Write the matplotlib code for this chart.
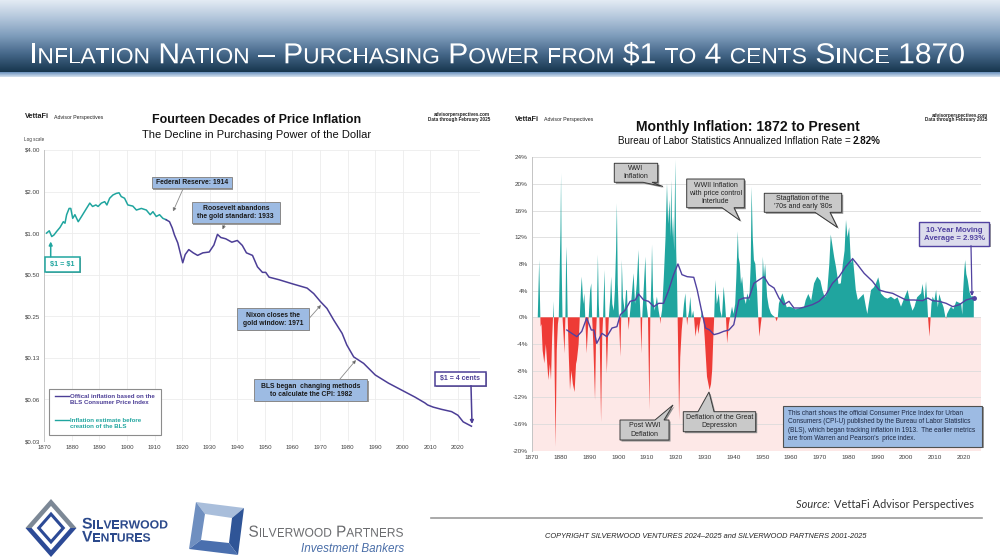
import numpy as np
import matplotlib
matplotlib.use("Agg")
import matplotlib.pyplot as plt
from matplotlib.colors import LinearSegmentedColormap
from matplotlib.font_manager import FontProperties, findfont, get_font
from matplotlib.patches import PathPatch, Polygon, Rectangle
from matplotlib.textpath import TextPath
from matplotlib.ticker import NullLocator
from matplotlib.transforms import Affine2D

plt.rcParams["font.family"] = ["Liberation Sans", "DejaVu Sans"]

# --- left chart: value of $1 (log scale) ---
est_years = [1870.8, 1871.8, 1872.7, 1873.5, 1874.5, 1875.7, 1876.9, 1877.5, 1878.1, 1879.0,
             1879.6, 1880.3, 1881.1, 1882.3, 1883.5, 1885.3, 1886.5, 1887.5, 1888.7, 1889.5,
             1890.7, 1891.9, 1892.7, 1893.7, 1894.9, 1896.1, 1897.1, 1897.9, 1899.1, 1900.3,
             1902.1, 1903.4, 1905.2, 1907.0, 1908.4, 1909.4, 1910.6, 1911.8, 1913.0, 1914.2]
est_values = [1.00, 1.04, 0.945, 0.97, 1.03, 1.10, 1.21, 1.18, 1.36, 1.51,
              1.51, 1.28, 1.36, 1.21, 1.32, 1.51, 1.65, 1.56, 1.60, 1.56,
              1.65, 1.69, 1.60, 1.79, 1.89, 1.94, 1.96, 1.84, 1.79, 1.60,
              1.57, 1.47, 1.51, 1.47, 1.36, 1.43, 1.32, 1.36, 1.28, 1.25]

bls_years = [1914.2, 1915.4, 1916.4, 1917.2, 1918.4, 1919.3, 1920.2, 1921.1, 1922.4, 1924.0,
             1925.6, 1927.5, 1929.8, 1931.5, 1932.8, 1934.0, 1935.8, 1938.0, 1940.0, 1941.8,
             1943.3, 1945.5, 1947.3, 1949.1, 1950.3, 1951.5, 1955.1, 1959.9, 1965.3, 1967.7,
             1970.1, 1972.5, 1975.0, 1978.0, 1979.7, 1982.2, 1985.8, 1990.0, 1994.8, 1999.6,
             2004.4, 2008.0, 2009.0, 2011.0, 2014.0, 2017.7, 2020.0, 2021.9, 2024.9]
bls_values = [1.25, 1.21, 1.09, 0.97, 0.85, 0.72, 0.61, 0.70, 0.76, 0.72,
              0.69, 0.72, 0.73, 0.82, 0.98, 0.93, 0.91, 0.86, 0.885, 0.815,
              0.72, 0.69, 0.57, 0.52, 0.52, 0.48, 0.46, 0.43, 0.40, 0.365,
              0.32, 0.285, 0.234, 0.188, 0.155, 0.127, 0.114, 0.094, 0.082, 0.073,
              0.065, 0.059, 0.057, 0.055, 0.053, 0.051, 0.048, 0.043, 0.040]

log_ticks = [4, 2, 1, 0.5, 0.25, 0.125, 0.0625, 0.03125]
log_labels = ["$4.00", "$2.00", "$1.00", "$0.50", "$0.25", "$0.13", "$0.06", "$0.03"]

# --- right chart: monthly annualized inflation (%) ---
infl_years = [
    1872.0, 1872.5, 1872.9, 1873.0, 1873.3, 1873.7, 1874.3, 1874.8, 1875.3, 1875.7,
    1876.2, 1876.6, 1877.0, 1877.3, 1877.4, 1877.6, 1877.8, 1878.2, 1878.6, 1879.0,
    1879.3, 1879.9, 1880.1, 1880.3, 1880.6, 1881.0, 1881.3, 1881.6, 1881.9, 1882.1,
    1882.4, 1882.8, 1883.2, 1883.7, 1884.2, 1884.8, 1885.3, 1885.6, 1886.2, 1886.6,
    1887.0, 1887.3, 1887.8, 1888.2, 1888.5, 1889.0, 1889.4, 1889.7, 1890.2, 1890.6,
    1890.9, 1891.3, 1891.9, 1892.3, 1892.5, 1892.9, 1893.2, 1893.4, 1894.0, 1894.4,
    1894.7, 1895.2, 1895.5, 1896.0, 1896.4, 1896.7, 1897.2, 1897.5, 1897.9, 1898.4,
    1898.8, 1899.2, 1899.5, 1899.8, 1900.2, 1900.7, 1901.0, 1901.2, 1901.6, 1902.2,
    1902.7, 1903.0, 1903.3, 1903.6, 1903.9, 1904.6, 1905.3, 1905.8, 1906.4, 1907.0,
    1907.4, 1907.7, 1908.0, 1908.3, 1908.9, 1909.4, 1909.8, 1910.3, 1910.8, 1911.1,
    1911.5, 1911.7, 1912.1, 1912.6, 1913.4, 1914.0, 1914.4, 1914.6, 1914.8, 1915.2,
    1915.8, 1916.4, 1916.9, 1917.3, 1917.8, 1918.1, 1918.4, 1918.7, 1919.0, 1919.4,
    1919.8, 1920.1, 1920.4, 1920.6, 1920.9, 1921.1, 1921.5, 1922.0, 1922.4, 1922.8,
    1923.3, 1923.7, 1923.9, 1924.2, 1924.6, 1925.0, 1925.5, 1926.0, 1926.3, 1926.8,
    1927.4, 1927.8, 1928.3, 1928.7, 1929.1, 1929.5, 1930.0, 1930.8, 1931.7, 1932.2,
    1932.6, 1933.0, 1933.3, 1933.7, 1934.2, 1934.9, 1935.4, 1936.0, 1936.6, 1937.1,
    1937.4, 1937.8, 1938.4, 1938.8, 1939.5, 1940.0, 1940.6, 1941.0, 1941.5, 1941.8,
    1942.2, 1942.6, 1943.0, 1943.6, 1944.3, 1944.8, 1945.5, 1946.0, 1946.3, 1946.7,
    1947.1, 1947.6, 1948.0, 1948.2, 1948.6, 1949.0, 1949.5, 1949.8, 1950.2, 1950.6,
    1951.0, 1951.7, 1952.3, 1953.0, 1953.6, 1954.5, 1955.0, 1955.4, 1955.8, 1956.5,
    1957.0, 1957.8, 1958.5, 1959.3, 1960.3, 1961.6, 1962.5, 1963.4, 1964.5, 1965.1,
    1966.0, 1967.0, 1968.0, 1969.1, 1970.2, 1970.9, 1971.7, 1972.5, 1973.3, 1973.8,
    1974.3, 1975.0, 1975.6, 1976.5, 1977.3, 1978.0, 1978.6, 1979.1, 1979.6, 1980.2,
    1980.8, 1981.5, 1982.5, 1983.2, 1984.3, 1985.2, 1986.0, 1986.5, 1987.0, 1987.8,
    1988.8, 1989.5, 1990.3, 1990.8, 1991.2, 1992.5, 1993.5, 1994.7, 1996.0, 1997.0,
    1998.2, 1999.0, 2000.5, 2001.5, 2002.2, 2002.9, 2003.8, 2005.2, 2005.7, 2006.4,
    2006.9, 2007.3, 2007.6, 2008.1, 2008.5, 2008.8, 2009.2, 2009.8, 2010.4, 2011.0,
    2011.5, 2012.1, 2013.0, 2013.6, 2013.9, 2014.2, 2015.0, 2015.6, 2016.4, 2017.4,
    2018.3, 2019.1, 2019.5, 2019.8, 2020.2, 2020.5, 2020.9, 2021.4, 2022.0, 2022.6,
    2023.0, 2023.5]
infl_rates = [
    0, 8.6, 0, -1.4, -1, -5, -6.9, -4, -7, -9.4,
    -7, -9.4, -3, 0, 2.4, 0, -6, -19.4, -5, -1,
    0, 13, 21.6, 8, 0, -3, -5.4, 0, 10.6, 8,
    0, -6, -10.9, -8, -10, -11.2, -7, -6.4, -4, 0,
    4, 6.1, 2, 3.6, 0, -5.4, -2, 0, 4, 5.1,
    0, -4, -12.4, -2, 0, 9.4, 2, 0, -15.7, -3,
    0, 7.1, 0, -8.4, -3, 0, 3, 6.1, 2, 1,
    4, 10, 17.1, 5, 0, -5.9, 0, 8.6, 3, 1,
    4, 4.1, 0, -1.9, 0, 3, 6.6, 2, 5, 10.1,
    3, 0, -5.4, 0, 5, 9.1, 2, 0, -13.9, 0,
    6, 10.9, 3, 1, 3.1, 1, 0, -1, 0, 1.1,
    6, 12, 20.1, 14, 17.6, 12, 20.6, 12, 15.1, 10,
    23.6, 10, 5.1, 0, -8, -15.4, -6, -2, 0, 2,
    3.6, 0, -1.2, 0, 1, 3.1, 0, 1, 0, -2.9,
    -1, -2.5, -1, 0, 1, 0, -3, -8.9, -10.9, -10,
    -7.9, -3, 0, 5.6, 2, 3.6, 1, 0, 4.6, 2,
    0, -3.9, -1, 0, 1.6, 0.5, 2, 6, 12.9, 9,
    8, 5, 6.1, 3.1, 2, 3.6, 2.5, 8, 19.6, 12,
    8.6, 8, 5, 4.1, 0, -2.9, -1, 0, 9.1, 6,
    8, 3.1, 1.5, 0.6, 0.3, 0, -0.6, 0, 2.1, 3,
    3.6, 2.5, 1.5, 1.6, 1.5, 1.2, 1.3, 1.5, 1.5, 2.6,
    3.5, 2.5, 5.1, 6.1, 5.5, 4.1, 3, 3.5, 8, 12.4,
    11, 9, 7.6, 5, 5.1, 8, 10, 14.6, 12, 13.5,
    8.1, 9, 4.1, 2.6, 3.1, 3.5, 1.6, 0.5, 2, 4.1,
    4.5, 5.1, 6, 5, 3.6, 3, 2.8, 3.1, 2.7, 3,
    1.6, 2.5, 4.1, 2, 1, 1.6, 3, 3.6, 5, 2.5,
    5.4, 2.5, 0, -2.9, 0, 2, 3.1, 2.5, 4.1, 1.5,
    3.5, 2.6, 1.5, 0.1, -0.2, 0.5, 1.2, 1.6, 1.2, 2.4,
    2.2, 2.1, 0.4, 4, 7, 8.6, 6.5, 5.6, 3.8, 3.1,
    3.2, 2.9]

ma_years = [1882.1, 1883.8, 1885.6, 1887.3, 1889.0, 1890.6, 1891.5, 1892.5, 1894.3, 1896.0,
            1897.8, 1899.5, 1900.7, 1902.4, 1904.1, 1905.9, 1907.0, 1908.8, 1910.5, 1912.3,
            1914.0, 1915.7, 1917.5, 1919.2, 1920.7, 1922.1, 1923.9, 1926.2, 1927.4, 1929.1,
            1930.3, 1931.7, 1933.2, 1934.9, 1936.6, 1938.4, 1940.1, 1941.9, 1943.6, 1945.4,
            1947.1, 1948.8, 1950.6, 1952.3, 1954.1, 1955.8, 1957.5, 1959.3, 1961.0, 1963.4,
            1965.1, 1967.4, 1969.7, 1972.1, 1974.4, 1976.7, 1979.0, 1981.4, 1983.1, 1985.4,
            1988.3, 1990.6, 1993.0, 1995.3, 1997.6, 1999.9, 2002.8, 2005.7, 2007.5, 2009.2,
            2011.5, 2013.9, 2016.2, 2018.5, 2020.8, 2023.5]
ma_values = [-1.9, -2.4, -2.9, -2.1, -0.1, -1.9, -1.9, -3.9, -2.4, -2.9,
             -1.6, -1.4, 0.4, 1.1, 2.4, 2.6, 3.5, 2.6, 2.4, 1.6,
             2.1, 2.1, 4.1, 6.4, 8.0, 6.4, 6.1, 6.0, 4.1, 0.6,
             -1.6, -1.9, -2.6, -2.4, -2.1, -1.9, -1.1, 2.6, 2.9, 2.9,
             5.1, 5.6, 6.1, 4.9, 4.4, 2.9, 1.9, 2.4, 1.4, 1.4,
             1.6, 1.9, 2.4, 3.4, 5.1, 6.1, 7.6, 8.8, 7.9, 6.6,
             5.4, 4.1, 3.8, 3.6, 3.1, 2.6, 2.6, 2.5, 2.9, 2.5,
             2.4, 2.1, 1.6, 1.9, 2.6, 2.93]

pct_ticks = list(range(-20, 25, 4))
decade_ticks = list(range(1870, 2021, 10))

TEAL = "#20a59f"
PURPLE = "#4c3e96"
MA_PURPLE = "#5142a0"
RED = "#ee3b36"
BOX_BLUE = "#9dbbe3"
GRAY_BOX = "#c9c9c9"
BOX_FS = 4.9
CALL_FS = 5.0


def fig_rect(left, top, right, bottom):
    return [left / 1000, 1 - bottom / 560, (right - left) / 1000, (bottom - top) / 560]


def smallcaps(ax, text, x, base, cap_big, cap_small, width, color, family="Liberation Sans", weight="normal"):
    # draws small caps as glyph paths, squeezed to the given width
    prop = FontProperties(family=family, weight=weight)
    font = get_font(findfont(prop))
    big, small = cap_big / 0.716, cap_small / 0.716
    runs = []
    for ch in text:
        c, size = (ch.upper(), small) if ch.islower() else (ch, big)
        font.set_size(size, 72)
        runs.append((c, size, font.load_char(ord(c)).linearHoriAdvance / 65536))
    sx = width / sum(r[2] for r in runs)
    for c, size, adv in runs:
        if c != " ":
            tp = TextPath((0, 0), c, size=size, prop=prop)
            path = Affine2D().scale(sx, -1).translate(x, base).transform_path(tp)
            ax.add_patch(PathPatch(path, fc=color, ec="none", lw=0))
        x += adv * sx


def box(ax, x0, y0, x1, y1, fc, ec, lw=0.7, shadow=True):
    if shadow:
        ax.add_patch(Rectangle((x0 + 1.3, y0 + 1.3), x1 - x0, y1 - y0, fc="#9a9a9a", ec="none"))
    ax.add_patch(Rectangle((x0, y0), x1 - x0, y1 - y0, fc=fc, ec=ec, lw=lw))


def callout(ax, x0, y0, x1, y1, edge, a, b, tip):
    if edge == "bottom":
        pts = [(x0, y0), (x1, y0), (x1, y1), (b, y1), tip, (a, y1), (x0, y1)]
    else:
        pts = [(x0, y0), (a, y0), tip, (b, y0), (x1, y0), (x1, y1), (x0, y1)]
    shadow = [(px + 1.5, py + 1.5) for px, py in pts]
    ax.add_patch(Polygon(shadow, closed=True, fc="#8f8f8f", ec="none"))
    ax.add_patch(Polygon(pts, closed=True, fc=GRAY_BOX, ec="#3a3a3a", lw=0.7))


def arrow(ax, start, tip, color="#8a8a8a", head="#222222", lw=0.6, ms=5):
    ax.annotate("", xy=tip, xytext=start,
                arrowprops=dict(arrowstyle="-|>", ec=color, fc=head, lw=lw,
                                mutation_scale=ms, shrinkA=0, shrinkB=0))


fig = plt.figure(figsize=(10, 5.6), dpi=100)

bg = fig.add_axes([0, 0, 1, 1], zorder=0)
bg.set_xlim(0, 1000)
bg.set_ylim(560, 0)
bg.axis("off")

# title bar
bar_cmap = LinearSegmentedColormap.from_list(
    "bar", ["#e6edf5", "#b4c7dc", "#7f9dbc", "#46688a", "#17364e"])
bg.imshow(np.linspace(0, 1, 200)[:, None], cmap=bar_cmap, extent=(0, 1000, 72.5, 0), aspect="auto")
stripe_cmap = LinearSegmentedColormap.from_list("stripe", ["#6b92bd", "#d4e1ef"])
bg.imshow(np.linspace(0, 1, 20)[:, None], cmap=stripe_cmap, extent=(0, 1000, 77, 72.5), aspect="auto")
smallcaps(bg, "Inflation Nation \u2013 Purchasing Power from $1 to 4 cents Since 1870",
          29, 63.3, 20.7, 15.7, 936, "white")

# ------------------------------------------------------------- left chart
axL = fig.add_axes(fig_rect(44.3, 150, 480, 441), zorder=1)
axL.set_facecolor("none")
axL.plot(est_years, est_values, color=TEAL, lw=1.1, zorder=3)
axL.plot(bls_years, bls_values, color=PURPLE, lw=1.1, zorder=3)
axL.set_yscale("log", base=2)
axL.set_ylim(0.03125, 4)
axL.set_yticks(log_ticks)
axL.set_yticklabels(log_labels)
axL.yaxis.set_minor_locator(NullLocator())
axL.set_xlim(1870, 2028)
axL.set_xticks(decade_ticks)
axL.grid(True, color="#ececec", lw=0.6)
axL.set_axisbelow(True)
for s in ["top", "right", "bottom"]:
    axL.spines[s].set_visible(False)
axL.spines["left"].set_color("#c4c4c4")
axL.spines["left"].set_linewidth(0.7)
axL.tick_params(length=0, labelsize=4.4, colors="#404040", pad=3)

# ------------------------------------------------------------- right chart
axR = fig.add_axes(fig_rect(532, 157.3, 981, 450.7), zorder=1)
axR.set_facecolor("none")
x = np.array(infl_years)
y = np.array(infl_rates)
axR.axhspan(-20, 0, color="#fde8e7", lw=0, zorder=0)
axR.fill_between(x, y, 0, where=y >= 0, interpolate=True, color=TEAL, lw=0, zorder=2)
axR.fill_between(x, y, 0, where=y <= 0, interpolate=True, color=RED, lw=0, zorder=2)
axR.plot(ma_years, ma_values, color=MA_PURPLE, lw=1.0, zorder=3)
axR.plot(ma_years[-1:], ma_values[-1:], "o", color=MA_PURPLE, ms=2.5, zorder=4)
axR.set_ylim(-20, 24)
axR.set_yticks(pct_ticks)
axR.set_yticklabels([f"{t}%" for t in pct_ticks])
axR.set_xlim(1870, 2026)
axR.set_xticks(decade_ticks)
axR.grid(True, axis="y", color="#dcdcdc", lw=0.6)
axR.set_axisbelow(True)
for s in ["top", "right", "bottom"]:
    axR.spines[s].set_visible(False)
axR.spines["left"].set_color("#c4c4c4")
axR.spines["left"].set_linewidth(0.7)
axR.tick_params(length=0, labelsize=4.6, colors="#404040", pad=3)

# ------------------------------------------------------------- overlay
ov = fig.add_axes([0, 0, 1, 1], zorder=5)
ov.set_xlim(0, 1000)
ov.set_ylim(560, 0)
ov.axis("off")
ov.patch.set_alpha(0)

# left chart headers
ov.text(25, 117, "VettaFi", fontsize=5.2, weight="bold", color="#222", va="center")
ov.text(54, 117, "Advisor Perspectives", fontsize=3.8, color="#222", va="center")
ov.text(490.5, 114.5, "advisorperspectives.com", fontsize=3.3, weight="bold", color="#222", ha="right", va="center")
ov.text(490.5, 119.5, "Data through February 2025", fontsize=3.3, weight="bold", color="#222", ha="right", va="center")
ov.text(257, 120, "Fourteen Decades of Price Inflation", fontsize=8.9, weight="bold", color="#111", ha="center", va="center")
ov.text(257, 134.5, "The Decline in Purchasing Power of the Dollar", fontsize=8.0, color="#111", ha="center", va="center")
ov.text(23.5, 139.5, "Log scale", fontsize=3.3, color="#333", va="center")

# left chart annotations
box(ov, 151.7, 176.7, 231.7, 188.3, BOX_BLUE, "#8a8a8a")
ov.text(191.7, 182.6, "Federal Reserve: 1914", fontsize=BOX_FS, weight="bold", color="#1a1a1a", ha="center", va="center")
arrow(ov, (183, 189), (173, 211.5))

box(ov, 191.7, 201.7, 280, 223.3, BOX_BLUE, "#8a8a8a")
ov.text(235.8, 212.6, "Roosevelt abandons\nthe gold standard: 1933", fontsize=BOX_FS, weight="bold",
        color="#1a1a1a", ha="center", va="center", linespacing=1.25)
arrow(ov, (225, 223.5), (222.5, 229.5))

box(ov, 45, 256.7, 80, 271.7, "white", TEAL, lw=1.1, shadow=True)
ov.text(62.5, 264.3, "\\$1 = \\$1", fontsize=5.2, weight="bold", color=TEAL, ha="center", va="center")
arrow(ov, (50.7, 256.7), (50.7, 241.5), color=TEAL, head=TEAL, lw=1.1, ms=5)

box(ov, 236.7, 308.3, 309, 330, BOX_BLUE, "#8a8a8a")
ov.text(272.8, 319.3, "Nixon closes the\ngold window: 1971", fontsize=BOX_FS, weight="bold",
        color="#1a1a1a", ha="center", va="center", linespacing=1.25)
arrow(ov, (309.5, 318), (321, 305))

box(ov, 254.3, 379.3, 367.3, 401, BOX_BLUE, "#8a8a8a")
ov.text(310.8, 390.3, "BLS began  changing methods\nto calculate the CPI: 1982", fontsize=BOX_FS, weight="bold",
        color="#1a1a1a", ha="center", va="center", linespacing=1.25)
arrow(ov, (340, 379), (356, 360))

box(ov, 435, 371.7, 486, 385.7, "white", PURPLE, lw=1.1)
ov.text(460.5, 378.8, "$1 = 4 cents", fontsize=5.0, weight="bold", color=PURPLE, ha="center", va="center")
arrow(ov, (471, 385.7), (472, 424), color=PURPLE, head=PURPLE, lw=1.1, ms=5)

# left legend
ov.add_patch(Rectangle((49.3, 389), 111.4, 46, fc="white", ec="#8c8c8c", lw=0.8))
ov.plot([55, 68.5], [396, 396], color=PURPLE, lw=1.0)
ov.text(70, 399.7, "Offical inflation based on the\nBLS Consumer Price Index", fontsize=4.4, weight="bold",
        color=PURPLE, va="center", linespacing=1.2)
ov.plot([55, 68.5], [420, 420], color=TEAL, lw=1.0)
ov.text(70, 423.4, "Inflation estimate before\ncreation of the BLS", fontsize=4.4, weight="bold",
        color=TEAL, va="center", linespacing=1.2)

# right chart headers
ov.text(515, 119.5, "VettaFi", fontsize=5.2, weight="bold", color="#222", va="center")
ov.text(544.5, 119.5, "Advisor Perspectives", fontsize=3.8, color="#222", va="center")
ov.text(987.5, 115, "advisorperspectives.com", fontsize=3.3, weight="bold", color="#222", ha="right", va="center")
ov.text(987.5, 120, "Data through February 2025", fontsize=3.3, weight="bold", color="#222", ha="right", va="center")
ov.text(748, 126.5, "Monthly Inflation: 1872 to Present", fontsize=10.1, weight="bold", color="#111", ha="center", va="center")
ov.text(853, 140.5, "Bureau of Labor Statistics Annualized Inflation Rate = ", fontsize=7.1, color="#111", ha="right", va="center")
ov.text(853, 140.5, "2.82%", fontsize=7.1, weight="bold", color="#111", ha="left", va="center")

# right chart callouts
callout(ov, 614.3, 163.3, 657.7, 182.3, "bottom", 643, 652, (663, 186.5))
ov.text(636, 172.8, "WWI\nInflation", fontsize=CALL_FS, color="#222", ha="center", va="center", linespacing=1.25)
callout(ov, 686.7, 179, 744.3, 207.7, "bottom", 722, 734, (740, 220.5))
ov.text(715.5, 193.3, "WWII Inflation\nwith price control\nInterlude", fontsize=CALL_FS, color="#222",
        ha="center", va="center", linespacing=1.2)
callout(ov, 764.3, 193.3, 841.7, 212.3, "bottom", 815, 830, (837.5, 227.5))
ov.text(803, 202.8, "Stagflation of the\n'70s and early '80s", fontsize=CALL_FS, color="#222",
        ha="center", va="center", linespacing=1.25)
callout(ov, 620, 420, 669, 440, "top", 655, 664, (673, 405))
ov.text(644.5, 430, "Post WWI\nDeflation", fontsize=CALL_FS, color="#222", ha="center", va="center", linespacing=1.25)
callout(ov, 683.3, 411.7, 755.7, 431.7, "top", 698, 714, (709, 392))
ov.text(719.5, 421.7, "Deflation of the Great\nDepression", fontsize=CALL_FS, color="#222",
        ha="center", va="center", linespacing=1.25)

box(ov, 919.3, 222.3, 989.3, 245.7, "#dcdcec", MA_PURPLE, lw=1.0)
ov.text(954.3, 234, "10-Year Moving\nAverage = 2.93%", fontsize=5.6, weight="bold", color=MA_PURPLE,
        ha="center", va="center", linespacing=1.2)
arrow(ov, (971, 245.7), (972, 296), color=MA_PURPLE, head=MA_PURPLE, lw=0.9, ms=5)

box(ov, 782.7, 405.7, 982.3, 446.7, BOX_BLUE, "#505050", lw=0.8)
ov.text(788, 426.2,
        "This chart shows the official Consumer Price Index for Urban\n"
        "Consumers (CPI-U) published by the Bureau of Labor Statistics\n"
        "(BLS), which began tracking inflation in 1913.  The earlier metrics\n"
        "are from Warren and Pearson's  price index.",
        fontsize=4.7, color="#1c2742", va="center", linespacing=1.3)

# ------------------------------------------------------------- footer & logos
src = ov.text(974, 508.5, "VettaFi Advisor Perspectives", fontsize=7.9, family="Lato", color="#333",
              ha="right", va="baseline")
fig.canvas.draw()
left_px = src.get_window_extent().x0
ov.text(left_px - 1, 508.5, "Source: ", fontsize=7.9, family="Lato", style="italic",
        color="#333", ha="right", va="baseline")
ov.plot([431, 982], [517.5, 517.5], color="#9b9b9b", lw=1.2)
ov.text(706, 537, "COPYRIGHT SILVERWOOD VENTURES 2024\u20132025 and SILVERWOOD PARTNERS 2001-2025",
        fontsize=5.3, style="italic", color="#222", ha="center", va="center")

# Silverwood Ventures mark
cx, cy, hw, hh = 51, 528, 25.5, 29
def diamond(scale):
    return [(cx, cy - hh * scale), (cx + hw * scale, cy), (cx, cy + hh * scale), (cx - hw * scale, cy)]
outer = diamond(1.0)
bg.add_patch(Polygon([outer[3], outer[0], outer[1], (cx, cy)], fc="#7c8896", ec="none"))
bg.add_patch(Polygon([outer[3], (cx, cy), outer[1], outer[2]], fc="#2c4a96", ec="none"))
bg.add_patch(Polygon(diamond(0.76), fc="white", ec="none"))
bg.add_patch(Polygon(diamond(0.56), fc="#2c4a96", ec="none"))
bg.add_patch(Polygon(diamond(0.4), fc="white", ec="none"))
smallcaps(bg, "Silverwood", 82, 528.5, 11, 8.5, 86, "#2c4a8c", weight="bold")
smallcaps(bg, "Ventures", 82, 541.5, 11, 8.5, 68.6, "#2c4a8c", weight="bold")

# Silverwood Partners mark
bg.add_patch(Polygon([(196, 502), (244, 508), (232, 518), (205, 514)], fc="#a9bedb", ec="none"))
bg.add_patch(Polygon([(196, 502), (205, 514), (201, 540), (189, 549)], fc="#6f8fc0", ec="none"))
bg.add_patch(Polygon([(244, 508), (238, 555), (229, 543), (232, 518)], fc="#2f5597", ec="none"))
bg.add_patch(Polygon([(189, 549), (201, 540), (229, 543), (238, 555)], fc="#4a6fae", ec="none"))
smallcaps(bg, "Silverwood Partners", 248.5, 536.7, 11.5, 9, 155, "#6b6c6f")
ov.text(404, 551.5, "Investment Bankers", fontsize=8.4, style="italic", color="#4a6ea8",
        ha="right", va="baseline")

fig.savefig("out.png", dpi=100)
